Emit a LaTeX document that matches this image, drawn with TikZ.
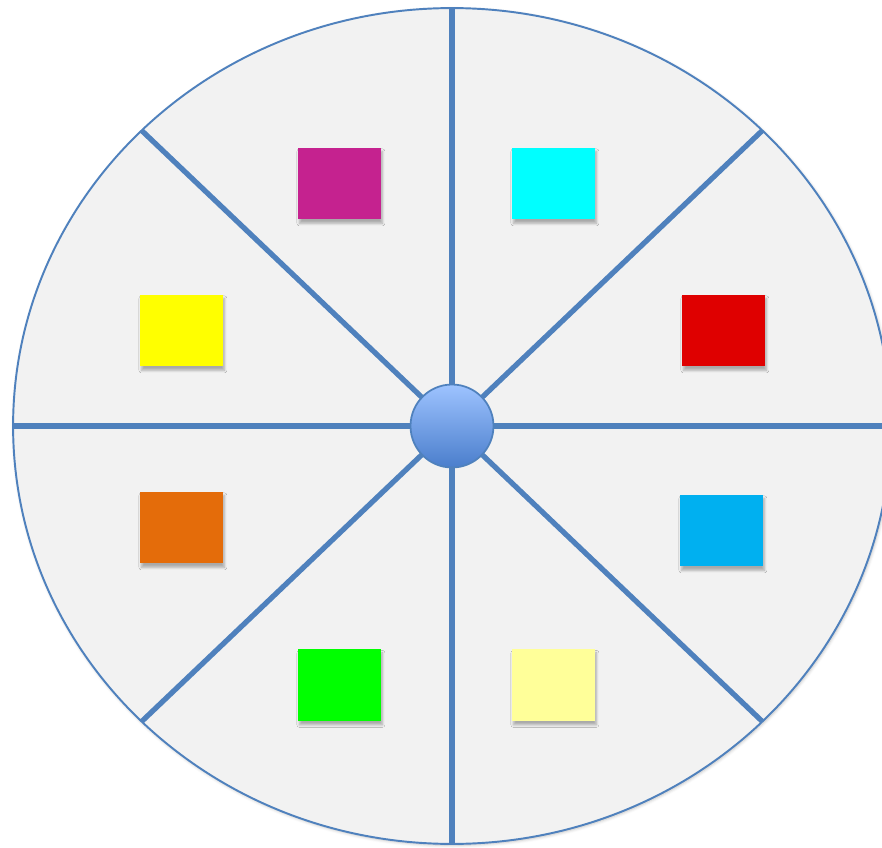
\documentclass[tikz,border=0pt]{standalone}
\usepackage{tikz}
\usetikzlibrary{shadows.blur}

\definecolor{rimblue}{HTML}{4F81BD}
\definecolor{sectorgray}{HTML}{F2F2F2}
\definecolor{hubtop}{HTML}{9EC3FF}
\definecolor{hubbottom}{HTML}{4A7ECC}
\definecolor{tilemagenta}{HTML}{C5228F}
\definecolor{tilecyan}{HTML}{00FFFF}
\definecolor{tilered}{HTML}{DF0000}
\definecolor{tileyellow}{HTML}{FFFF00}
\definecolor{tileorange}{HTML}{E46C0A}
\definecolor{tileblue}{HTML}{00B0F0}
\definecolor{tilegreen}{HTML}{00FF00}
\definecolor{tilecream}{HTML}{FFFF99}

\begin{document}
\begin{tikzpicture}[
    x=0.02cm, y=-0.02cm,
    rim/.style={draw=rimblue, line width=1.1pt, fill=sectorgray},
    spoke/.style={draw=rimblue, line width=3pt},
    tile/.style={rectangle, minimum width=1.66cm, minimum height=1.44cm, inner sep=0pt,
                 blur shadow={shadow xshift=0.8pt, shadow yshift=-2.2pt, shadow opacity=30,
                              shadow blur radius=1.4pt, shadow blur steps=6}},
    hubnode/.style={circle, draw=rimblue, line width=1pt, minimum size=1.66cm, inner sep=0pt,
                    top color=hubtop, bottom color=hubbottom}
]
    \useasboundingbox (0,0) rectangle (882,848);

    % wheel
    \coordinate (c) at (452,426);
    \path[rim, blur shadow={shadow xshift=0.6pt, shadow yshift=-0.8pt, shadow opacity=25}]
        (c) ellipse [x radius=8.78cm, y radius=8.36cm];

    % spokes
    \foreach \a in {0,45,...,315}
        \coordinate (rim\a) at ($(c)+(\a:439 and 418)$);
    \foreach \a in {0,45,...,315}
        \draw[spoke] (c) -- (rim\a);

    % colour tiles
    \node[tile, fill=tilemagenta] (magenta) at (339.5,183.5) {};
    \node[tile, fill=tilecyan] (cyan) at (553.5,183.5) {};
    \node[tile, fill=tilered] (red) at (723.5,330.5) {};
    \node[tile, fill=tileyellow] (yellow) at (181.5,330.5) {};
    \node[tile, fill=tileorange] (orange) at (181.5,527.5) {};
    \node[tile, fill=tileblue] (blue) at (721.5,530.5) {};
    \node[tile, fill=tilegreen] (green) at (339.5,685) {};
    \node[tile, fill=tilecream] (cream) at (553.5,685) {};

    \node[hubnode] (hub) at (c) {};
\end{tikzpicture}
\end{document}
